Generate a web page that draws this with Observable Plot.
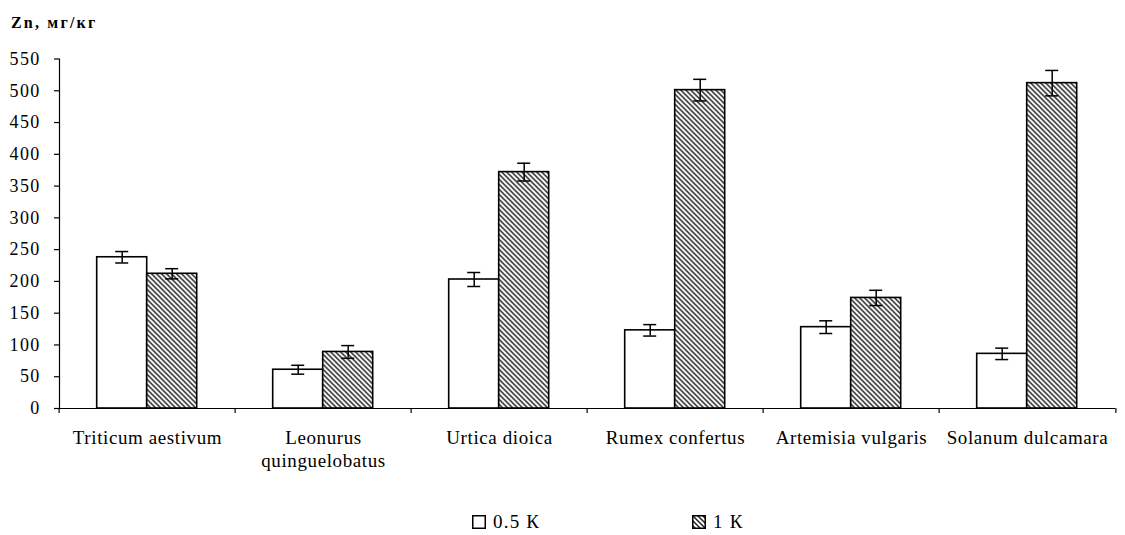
<!DOCTYPE html>
<html>
<head>
<meta charset="utf-8">
<script src="https://cdn.jsdelivr.net/npm/d3@7"></script>
<script src="https://cdn.jsdelivr.net/npm/@observablehq/plot@0.6"></script>
<style>
  html, body { margin: 0; background: #fff; }
  #chart { position: relative; width: 1125px; height: 535px; overflow: hidden;
           font-family: "Times New Roman", "Liberation Serif", Tinos, "DejaVu Serif", serif; color: #000; background: #fff; }
  #title { position: absolute; left: 11px; top: 14px; font-weight: bold; font-size: 16px; letter-spacing: 2.2px; }
  #plot { position: absolute; left: 0; top: 40px; }
  #plot g[aria-label="y-axis tick label"] text { letter-spacing: 1.3px; }
  #plot g[aria-label="fx-axis tick label"] text { letter-spacing: 0.6px; }
  .legend-item { position: absolute; top: 511px; display: flex; align-items: center;
                 font-size: 19px; letter-spacing: 1.2px; line-height: 22px; }
  .legend-item svg { margin-right: 7px; }
</style>
</head>
<body>
<div id="chart">
  <div id="title">Zn, мг/кг</div>
  <div id="plot"></div>
</div>
<script>
// Zinc content (mg/kg) in plant species at two contamination levels
const species = ["Triticum aestivum", "Leonurus quinguelobatus", "Urtica dioica",
                 "Rumex confertus", "Artemisia vulgaris", "Solanum dulcamara"];
const speciesLabels = ["Triticum aestivum", "Leonurus\nquinguelobatus", "Urtica dioica",
                       "Rumex confertus", "Artemisia vulgaris", "Solanum dulcamara"];
const seriesNames = ["0.5 К", "1 К"];
const zn05 = [238, 61, 203, 123, 128, 86];
const zn05Err = [9, 7, 11, 9, 10, 9];
const zn1 = [212, 89, 372, 501, 174, 512];
const zn1Err = [8, 10, 14, 17, 12, 20];
const yTicks = [0, 50, 100, 150, 200, 250, 300, 350, 400, 450, 500, 550];

const rows = species.flatMap((s, i) => [
  {species: s, series: seriesNames[0], value: zn05[i], err: zn05Err[i]},
  {species: s, series: seriesNames[1], value: zn1[i], err: zn1Err[i]}
]);

const W = 1125, H = 450, mL = 56.3, mR = 8, mT = 18.5, mB = 82;
const step = (W - mL - mR) / species.length;
const labelOf = d => speciesLabels[species.indexOf(d)];
const serif = '"Times New Roman", "Liberation Serif", Tinos, "DejaVu Serif", serif';

const chart = Plot.plot({
  width: W, height: H,
  marginTop: mT, marginBottom: mB, marginLeft: mL, marginRight: mR,
  style: {fontFamily: serif, background: "#fff", color: "#000", overflow: "visible"},
  fx: {domain: species, padding: 0},
  x: {domain: seriesNames, paddingInner: 0, paddingOuter: 0.738, axis: null},
  y: {domain: [0, 550]},
  color: {domain: seriesNames, range: ["#ffffff", "url(#zn-hatch)"]},
  marks: [
    Plot.barY(rows, {fx: "species", x: "series", y: "value", fill: "series", stroke: "#000", strokeWidth: 1.6}),
    Plot.ruleY([0], {stroke: "#000", strokeWidth: 1.2}),
    // error bars
    Plot.ruleX(rows, {fx: "species", x: "series", y1: d => d.value - d.err, y2: d => d.value + d.err,
                      stroke: "#000", strokeWidth: 1.5}),
    Plot.tickY(rows, {fx: "species", x: "series", y: d => d.value - d.err, inset: 18.5, stroke: "#000", strokeWidth: 1.5}),
    Plot.tickY(rows, {fx: "species", x: "series", y: d => d.value + d.err, inset: 18.5, stroke: "#000", strokeWidth: 1.5}),
    // value axis
    Plot.frame({anchor: "left", facetAnchor: "left", stroke: "#000", strokeWidth: 1.2}),
    Plot.axisY({ticks: yTicks, tickSize: 5, tickPadding: 14, fontSize: 18, label: null, strokeWidth: 1.2}),
    // category boundaries
    Plot.axisFx({anchor: "bottom", tickSize: 5, tickFormat: () => "", dx: -step / 2, label: null, strokeWidth: 1.2}),
    Plot.axisFx({anchor: "bottom", ticks: [species[species.length - 1]], tickSize: 5, tickFormat: () => "", dx: step / 2, label: null, strokeWidth: 1.2}),
    // category names
    Plot.axisFx({anchor: "bottom", tickSize: 0, tickPadding: 18, fontSize: 19, lineHeight: 1.26, tickFormat: labelOf, label: null})
  ]
});

// hatch fill used by the "1 К" bars
const ns = "http://www.w3.org/2000/svg";
const defs = document.createElementNS(ns, "defs");
defs.innerHTML = `<pattern id="zn-hatch" patternUnits="userSpaceOnUse" width="5" height="5">
  <rect width="5" height="5" fill="#fff"/>
  <path d="M-1,-1L6,6M-1,4L1,6M4,-1L6,1" stroke="#222" stroke-width="1.5"/>
</pattern>`;
chart.insertBefore(defs, chart.firstChild);
document.getElementById("plot").appendChild(chart);

// legend
const color = chart.scale("color");
const legendLeft = [472, 692];
color.domain.forEach((name, i) => {
  const item = document.createElement("div");
  item.className = "legend-item";
  item.style.left = legendLeft[i] + "px";
  item.innerHTML = `<svg width="14" height="14"><rect x="0.75" y="0.75" width="12.5" height="12.5" fill="${color.range[i]}" stroke="#000" stroke-width="1.5"/></svg><span>${name}</span>`;
  document.getElementById("chart").appendChild(item);
});
</script>
</body>
</html>
